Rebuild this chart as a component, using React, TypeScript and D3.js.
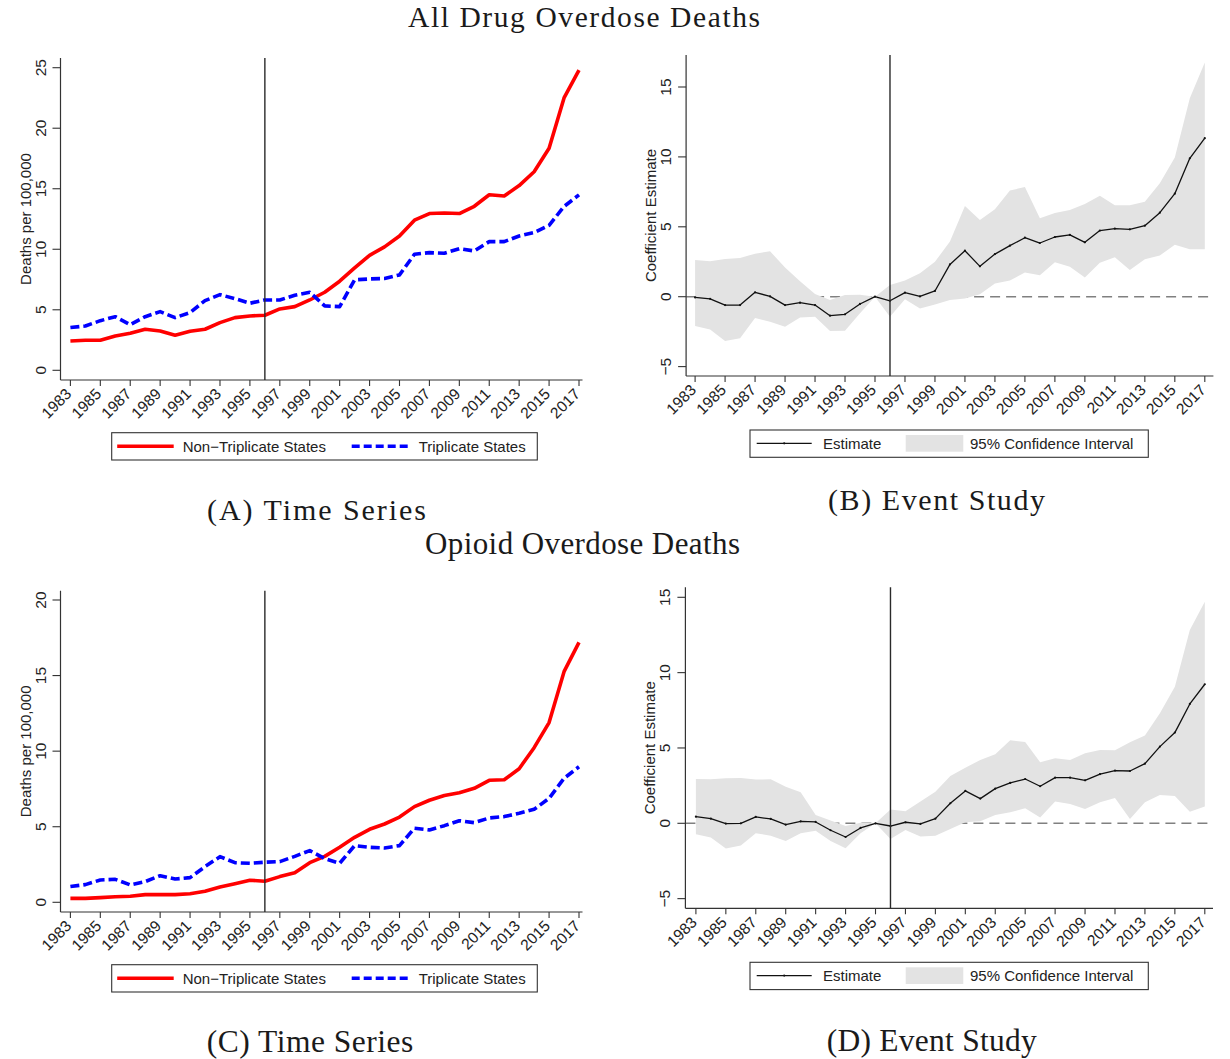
import React from 'react';
import * as d3 from 'd3';

// ---------- DATA ----------
const years = [1983, 1984, 1985, 1986, 1987, 1988, 1989, 1990, 1991, 1992, 1993, 1994, 1995, 1996, 1997, 1998, 1999, 2000, 2001, 2002, 2003, 2004, 2005, 2006, 2007, 2008, 2009, 2010, 2011, 2012, 2013, 2014, 2015, 2016, 2017];
const yearTicks = [1983, 1985, 1987, 1989, 1991, 1993, 1995, 1997, 1999, 2001, 2003, 2005, 2007, 2009, 2011, 2013, 2015, 2017];
const treatmentYear = 1996;

// Panel A: all drug overdose deaths (per 100,000)
const allNonTriplicate = [2.42, 2.48, 2.48, 2.84, 3.06, 3.39, 3.25, 2.89, 3.22, 3.39, 3.94, 4.35, 4.49, 4.55, 5.07, 5.26, 5.81, 6.45, 7.36, 8.46, 9.5, 10.2, 11.1, 12.4, 12.95, 13.0, 12.95, 13.55, 14.5, 14.4, 15.26, 16.4, 18.35, 22.5, 24.8];
const allTriplicate = [3.53, 3.66, 4.1, 4.43, 3.77, 4.43, 4.85, 4.35, 4.77, 5.76, 6.25, 5.92, 5.54, 5.81, 5.81, 6.2, 6.45, 5.32, 5.26, 7.47, 7.55, 7.58, 7.88, 9.59, 9.72, 9.67, 10.05, 9.86, 10.63, 10.63, 11.1, 11.38, 11.98, 13.53, 14.5];

// Panel B: event study, all drug
const allEstimate = [-0.05, -0.15, -0.6, -0.6, 0.31, 0.02, -0.6, -0.43, -0.6, -1.36, -1.26, -0.52, 0, -0.29, 0.29, 0.02, 0.41, 2.31, 3.29, 2.17, 3.05, 3.65, 4.22, 3.84, 4.27, 4.42, 3.89, 4.73, 4.87, 4.82, 5.08, 6.01, 7.37, 9.9, 11.34];
const allUpper = [2.63, 2.53, 2.7, 2.77, 3.08, 3.25, 2.08, 1.1, 0.19, -0.24, 0.12, 0.14, 0, 0.84, 1.15, 1.67, 2.5, 3.94, 6.49, 5.49, 6.25, 7.59, 7.85, 5.61, 5.99, 6.21, 6.63, 7.23, 6.54, 6.54, 6.8, 8.11, 9.95, 14.2, 16.75];
const allLower = [-2.1, -2.34, -3.17, -2.98, -1.53, -1.79, -2.15, -1.48, -1.43, -2.46, -2.43, -1.19, 0, -1.43, -0.19, -0.84, -0.55, -0.24, -0.12, 0.17, 0.95, 1.15, 1.74, 1.53, 2.46, 2.15, 1.38, 2.43, 2.82, 1.91, 2.67, 2.94, 3.72, 3.39, 3.39];

// Panel C: opioid overdose deaths (per 100,000)
const opioidNonTriplicate = [0.26, 0.26, 0.31, 0.37, 0.4, 0.51, 0.51, 0.51, 0.57, 0.73, 1.01, 1.23, 1.46, 1.39, 1.7, 1.96, 2.62, 3.04, 3.64, 4.3, 4.83, 5.18, 5.64, 6.33, 6.75, 7.06, 7.25, 7.54, 8.07, 8.11, 8.84, 10.23, 11.89, 15.26, 17.2];
const opioidTriplicate = [1.04, 1.17, 1.48, 1.52, 1.15, 1.37, 1.76, 1.54, 1.63, 2.36, 3.02, 2.62, 2.58, 2.65, 2.69, 3.04, 3.42, 2.89, 2.58, 3.75, 3.64, 3.59, 3.75, 4.9, 4.79, 5.07, 5.4, 5.27, 5.58, 5.67, 5.89, 6.15, 6.88, 8.2, 8.97];

// Panel D: event study, opioid
const opioidEstimate = [0.44, 0.31, -0.02, 0, 0.42, 0.29, -0.09, 0.13, 0.09, -0.46, -0.91, -0.31, 0, -0.18, 0.07, -0.04, 0.31, 1.33, 2.15, 1.64, 2.3, 2.68, 2.94, 2.46, 3.03, 3.03, 2.85, 3.27, 3.5, 3.47, 3.96, 5.09, 6.02, 7.92, 9.23];
const opioidUpper = [2.94, 2.92, 2.99, 3.01, 2.9, 2.92, 2.43, 2.06, 0.55, 0.18, -0.18, 0.04, 0, 0.91, 0.8, 1.44, 2.1, 3.14, 3.69, 4.2, 4.58, 5.51, 5.4, 4.05, 4.31, 4.2, 4.65, 4.87, 4.85, 5.38, 5.82, 7.3, 9.07, 12.83, 14.71];
const opioidLower = [-0.73, -0.95, -1.68, -1.48, -0.66, -0.82, -1.17, -0.66, -0.49, -1.17, -1.66, -0.66, 0, -1.04, -0.44, -0.88, -0.82, -0.38, 0.07, 0.13, 0.55, 0.73, 1.0, 0.38, 1.44, 1.28, 0.95, 1.39, 1.68, 0.29, 1.39, 1.88, 1.81, 0.77, 1.11];

const tsTicksAll = [0, 5, 10, 15, 20, 25];
const tsTicksOpioid = [0, 5, 10, 15, 20];
const esTicks = [-5, 0, 5, 10, 15];

const tsLegendLabels = ['Non\u2212Triplicate States', 'Triplicate States'];
const esLegendLabels = ['Estimate', '95% Confidence Interval'];

// ---------- STYLE ----------
const SANS = '"Liberation Sans", Arial, Helvetica, sans-serif';
const SERIF = '"Liberation Serif", "Times New Roman", Times, serif';
const AXIS = '#333';
const RED = '#ff0000';
const BLUE = '#0000ff';
const CI_FILL = '#e3e3e3';

interface Frame {
  left: number; right: number; top: number; bottom: number;
  x0: number; x1: number; yVal: [number, number]; yPx: [number, number];
}

const fmt = (t: number) => (t < 0 ? `\u2212${-t}` : `${t}`);

function Axes({ f, yTicks, yLabel }: { f: Frame; yTicks: number[]; yLabel: string }) {
  const x = d3.scaleLinear().domain([1983, 2017]).range([f.x0, f.x1]);
  const y = d3.scaleLinear().domain(f.yVal).range(f.yPx);
  return (
    <g fontFamily={SANS} fill="#222">
      <line x1={f.left} x2={f.left} y1={f.top} y2={f.bottom} stroke={AXIS} strokeWidth={1.2} />
      <line x1={f.left} x2={f.right} y1={f.bottom} y2={f.bottom} stroke={AXIS} strokeWidth={1.2} />
      {yTicks.map((t) => (
        <g key={t}>
          <line x1={f.left - 8} x2={f.left} y1={y(t)} y2={y(t)} stroke={AXIS} strokeWidth={1.1} />
          <text transform={`translate(${f.left - 15},${y(t)}) rotate(-90)`} textAnchor="middle" fontSize={15.5}>
            {fmt(t)}
          </text>
        </g>
      ))}
      {yearTicks.map((t) => (
        <g key={t}>
          <line x1={x(t)} x2={x(t)} y1={f.bottom} y2={f.bottom + 6} stroke={AXIS} strokeWidth={1.1} />
          <text transform={`translate(${x(t) + 2},${f.bottom + 15}) rotate(-45)`} textAnchor="end" fontSize={15.5}>
            {t}
          </text>
        </g>
      ))}
      <text transform={`translate(${f.left - 30},${(f.top + f.bottom) / 2}) rotate(-90)`} textAnchor="middle" fontSize={15}>
        {yLabel}
      </text>
      <line x1={x(treatmentYear)} x2={x(treatmentYear)} y1={f.top} y2={f.bottom} stroke="#2a2a2a" strokeWidth={1.4} />
    </g>
  );
}

function TimeSeries({ f, nonTrip, trip, yTicks }: { f: Frame; nonTrip: number[]; trip: number[]; yTicks: number[] }) {
  const x = d3.scaleLinear().domain([1983, 2017]).range([f.x0, f.x1]);
  const y = d3.scaleLinear().domain(f.yVal).range(f.yPx);
  const line = d3.line<number>().x((_, i) => x(years[i])).y((d) => y(d));
  return (
    <g>
      <path d={line(nonTrip) || ''} fill="none" stroke={RED} strokeWidth={3.6} strokeLinejoin="round" />
      <path d={line(trip) || ''} fill="none" stroke={BLUE} strokeWidth={3.6} strokeDasharray="9,4" strokeLinejoin="round" />
      <Axes f={f} yTicks={yTicks} yLabel="Deaths per 100,000" />
    </g>
  );
}

function EventStudy({ f, est, lo, hi }: { f: Frame; est: number[]; lo: number[]; hi: number[] }) {
  const x = d3.scaleLinear().domain([1983, 2017]).range([f.x0, f.x1]);
  const y = d3.scaleLinear().domain(f.yVal).range(f.yPx);
  const area = d3.area<number>().x((_, i) => x(years[i])).y0((_, i) => y(lo[i])).y1((d) => y(d));
  const line = d3.line<number>().x((_, i) => x(years[i])).y((d) => y(d));
  return (
    <g>
      <line x1={f.left} x2={f.right} y1={y(0)} y2={y(0)} stroke="#808080" strokeWidth={1.6} strokeDasharray="10,6" />
      <path d={area(hi) || ''} fill={CI_FILL} stroke="none" />
      <path d={line(est) || ''} fill="none" stroke="#111" strokeWidth={1.3} strokeLinejoin="round" />
      {est.map((d, i) => (
        <circle key={i} cx={x(years[i])} cy={y(d)} r={1.1} fill="#111" />
      ))}
      <Axes f={f} yTicks={esTicks} yLabel="Coefficient Estimate" />
    </g>
  );
}

function TSLegend({ x, y }: { x: number; y: number }) {
  const w = 425.6, h = 27.3, cy = y + 13.5;
  return (
    <g fontFamily={SANS} fontSize={15} fill="#222">
      <rect x={x} y={y} width={w} height={h} fill="#fff" stroke="#333" strokeWidth={1.1} />
      <line x1={x + 5.5} x2={x + 62} y1={cy} y2={cy} stroke={RED} strokeWidth={3.6} />
      <text x={x + 71} y={cy + 5.3}>{tsLegendLabels[0]}</text>
      <line x1={x + 240} x2={x + 297} y1={cy} y2={cy} stroke={BLUE} strokeWidth={3.6} strokeDasharray="8,4" />
      <text x={x + 307} y={cy + 5.3}>{tsLegendLabels[1]}</text>
    </g>
  );
}

function ESLegend({ x, y }: { x: number; y: number }) {
  const w = 398.3, h = 27.3, cy = y + 13.3;
  return (
    <g fontFamily={SANS} fontSize={15} fill="#222">
      <rect x={x} y={y} width={w} height={h} fill="#fff" stroke="#333" strokeWidth={1.1} />
      <line x1={x + 6.7} x2={x + 61.7} y1={cy} y2={cy} stroke="#111" strokeWidth={1.3} />
      <circle cx={x + 34.2} cy={cy} r={1.1} fill="#111" />
      <text x={x + 73} y={cy + 5.3}>{esLegendLabels[0]}</text>
      <rect x={x + 155.7} y={y + 5} width={57.6} height={16.7} fill={CI_FILL} />
      <text x={x + 220} y={cy + 5.3}>{esLegendLabels[1]}</text>
    </g>
  );
}

const frameA: Frame = { left: 60.5, right: 582.5, top: 58, bottom: 380, x0: 70.4, x1: 579, yVal: [0, 25], yPx: [370.3, 67.7] };
const frameB: Frame = { left: 686.1, right: 1213.4, top: 55, bottom: 376, x0: 695.1, x1: 1204.8, yVal: [0, 15], yPx: [296.7, 87] };
const frameC: Frame = { left: 60.5, right: 582.5, top: 590.7, bottom: 912, x0: 70.4, x1: 579, yVal: [0, 20], yPx: [902.3, 600] };
const frameD: Frame = { left: 685.4, right: 1213, top: 587.3, bottom: 908.3, x0: 695.9, x1: 1204.8, yVal: [0, 15], yPx: [823.3, 597.3] };

export default function App() {
  return (
    <div style={{ position: 'absolute', left: 0, top: 0, background: '#fff' }}>
      <svg width={1230} height={1059} viewBox="0 0 1230 1059" style={{ display: 'block' }}>
        <rect x={0} y={0} width={1230} height={1059} fill="#fff" />
        <g fontFamily={SERIF} fill="#1a1a1a">
          <text x={408} y={26.5} fontSize={29.5} textLength={352} lengthAdjust="spacing">All Drug Overdose Deaths</text>
          <text x={425} y={554} fontSize={31} textLength={315} lengthAdjust="spacing">Opioid Overdose Deaths</text>
          <text x={207} y={520} fontSize={30} textLength={219} lengthAdjust="spacing">(A)  Time Series</text>
          <text x={828} y={510} fontSize={30} textLength={217} lengthAdjust="spacing">(B)  Event Study</text>
          <text x={206.7} y={1052} fontSize={31.5} textLength={206.6} lengthAdjust="spacing">(C) Time Series</text>
          <text x={826.7} y={1050.5} fontSize={31.5} textLength={210} lengthAdjust="spacing">(D) Event Study</text>
        </g>
        <TimeSeries f={frameA} nonTrip={allNonTriplicate} trip={allTriplicate} yTicks={tsTicksAll} />
        <EventStudy f={frameB} est={allEstimate} lo={allLower} hi={allUpper} />
        <TimeSeries f={frameC} nonTrip={opioidNonTriplicate} trip={opioidTriplicate} yTicks={tsTicksOpioid} />
        <EventStudy f={frameD} est={opioidEstimate} lo={opioidLower} hi={opioidUpper} />
        <TSLegend x={111.7} y={432.7} />
        <ESLegend x={750} y={430} />
        <TSLegend x={111.7} y={964.7} />
        <ESLegend x={750} y={962.3} />
      </svg>
    </div>
  );
}
